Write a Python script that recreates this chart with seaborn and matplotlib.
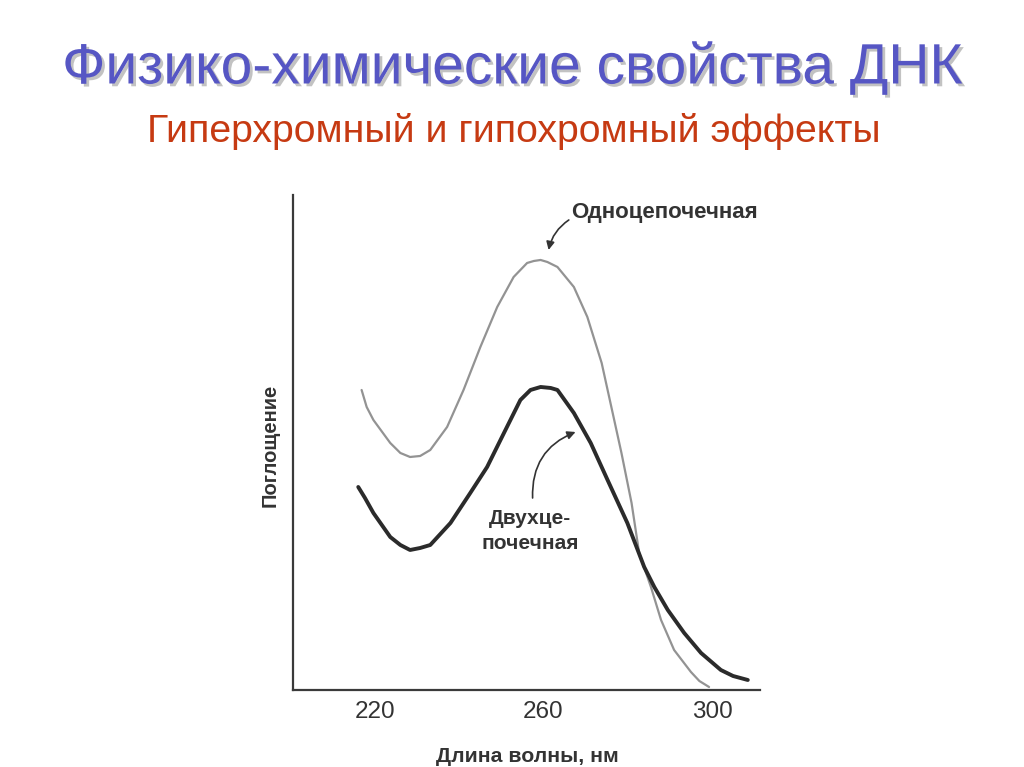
import matplotlib
matplotlib.use("Agg")
import matplotlib.pyplot as plt
import matplotlib.patheffects as pe
import pandas as pd
import seaborn as sns

# спектры поглощения ДНК (усл. ед.)
wl_single = [216.8, 218.0, 219.6, 223.6, 226.0, 228.3, 230.7, 233.1, 237.1, 241.0,
             245.0, 249.0, 252.9, 256.1, 257.7, 259.3, 260.9, 263.3, 267.2, 270.4,
             273.8, 276.1, 278.5, 280.9, 282.7, 285.5, 287.9, 291.0, 295.0, 297.0,
             299.3]
abs_single = [3.00, 2.83, 2.70, 2.47, 2.37, 2.33, 2.34, 2.40, 2.63, 3.00,
              3.43, 3.83, 4.13, 4.27, 4.29, 4.30, 4.28, 4.23, 4.03, 3.73,
              3.27, 2.83, 2.37, 1.87, 1.37, 1.03, 0.70, 0.40, 0.18, 0.09,
              0.03]

wl_double = [216.0, 217.6, 219.6, 223.6, 226.0, 228.3, 230.7, 233.1, 237.9, 242.6,
             246.6, 250.6, 254.5, 256.9, 259.3, 261.7, 263.3, 267.2, 271.2, 275.2,
             279.9, 283.9, 286.3, 289.5, 293.4, 297.4, 302.1, 305.0, 308.5]
abs_double = [2.03, 1.92, 1.77, 1.53, 1.45, 1.40, 1.42, 1.45, 1.67, 1.97,
              2.23, 2.57, 2.90, 3.00, 3.03, 3.02, 3.00, 2.77, 2.47, 2.10,
              1.67, 1.23, 1.03, 0.80, 0.57, 0.37, 0.20, 0.14, 0.10]

xticks = [220, 260, 300]

df = pd.concat([
    pd.DataFrame({"wl": wl_single, "A": abs_single, "form": "single"}),
    pd.DataFrame({"wl": wl_double, "A": abs_double, "form": "double"}),
])

sns.set_style("white")
plt.rcParams['font.family'] = ['Liberation Sans', 'DejaVu Sans']

fig = plt.figure(figsize=(10.24, 7.67), dpi=100)
ax = fig.add_axes([0.2861, 0.1004, 0.4561, 0.6454])

sns.lineplot(data=df, x="wl", y="A", hue="form", size="form",
             palette={"single": "#939393", "double": "#2b2b2b"},
             sizes={"single": 1.6, "double": 2.8},
             sort=False, legend=False, ax=ax)
for ln in ax.lines:
    ln.set_solid_joinstyle("round")
    ln.set_solid_capstyle("round")

ax.set_xlim(200.5, 311.4)
ax.set_ylim(0, 4.95)
ax.set_xticks(xticks)
ax.set_yticks([])
ax.tick_params(axis="x", direction="in", length=12, width=1.4, color="#333333",
               labelsize=17.5, labelcolor="#333333", pad=8)
for s in ["top", "right"]:
    ax.spines[s].set_visible(False)
for s in ["left", "bottom"]:
    ax.spines[s].set_color("#3a3a3a")
    ax.spines[s].set_linewidth(1.6)

ax.set_xlabel("Длина волны, нм", fontsize=15.3, fontweight="bold", color="#333333", va="center")
ax.xaxis.set_label_coords(0.501, -0.135)
ax.set_ylabel("Поглощение", fontsize=14.5, fontweight="bold", color="#333333", va="center")
ax.yaxis.set_label_coords(-0.049, 0.495)

# подписи кривых
ax.text(266.5, 4.77, "Одноцепочечная", fontsize=16, fontweight="bold",
        color="#333333", ha="left", va="center")
ax.annotate("", xy=(261.2, 4.40), xytext=(266.0, 4.70),
            arrowprops=dict(arrowstyle="-|>", color="#333333", lw=1.2,
                            mutation_scale=12, connectionstyle="arc3,rad=0.2",
                            shrinkA=0, shrinkB=0))
ax.text(256.9, 1.59, "Двухце-\nпочечная", fontsize=15, fontweight="bold",
        color="#333333", ha="center", va="center", linespacing=1.35)
ax.annotate("", xy=(267.6, 2.58), xytext=(257.4, 1.92),
            arrowprops=dict(arrowstyle="-|>", color="#333333", lw=1.2,
                            mutation_scale=12, connectionstyle="arc3,rad=-0.35",
                            shrinkA=0, shrinkB=0))

shadow = [pe.withSimplePatchShadow(offset=(2, -2), shadow_rgbFace="#9a9a9a", alpha=0.6)]
fig.text(0.501, 1 - 68 / 767, "Физико-химические свойства ДНК", fontsize=41,
         color="#5656c4", ha="center", va="center", path_effects=shadow)
fig.text(0.502, 1 - 131 / 767, "Гиперхромный и гипохромный эффекты", fontsize=28.3,
         color="#c63a12", ha="center", va="center")

fig.savefig("out.png", dpi=100, facecolor="white")
